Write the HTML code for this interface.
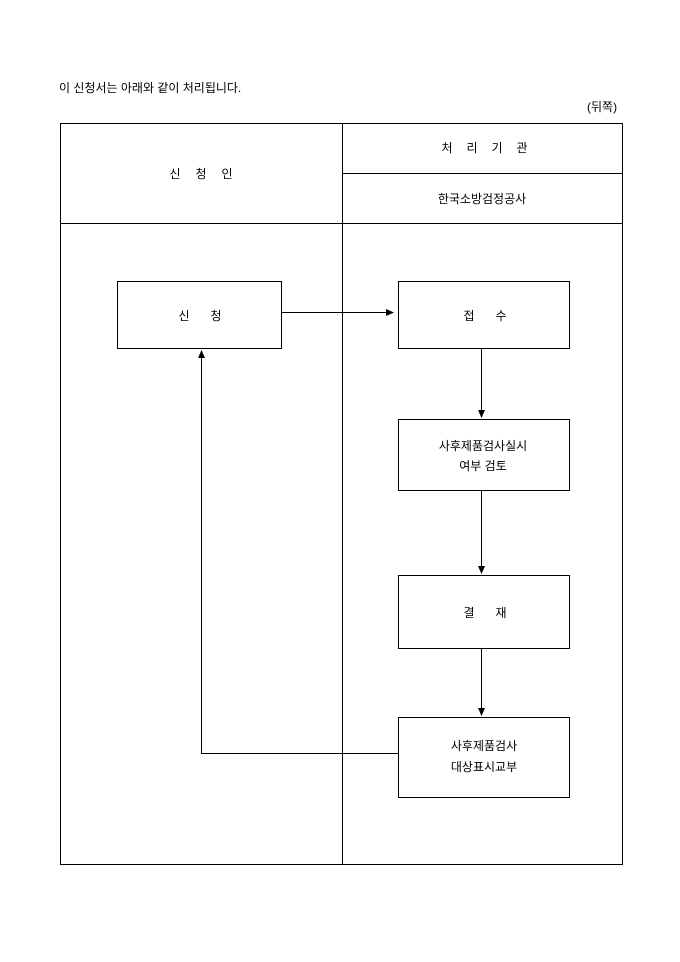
<!DOCTYPE html>
<html><head><meta charset="utf-8"><style>
html,body{margin:0;padding:0;background:#fff;}
svg{display:block;}
text{font-family:"Liberation Sans","Noto Sans CJK KR","NanumGothic",sans-serif;font-size:12px;fill:#000;}
</style></head><body>
<svg width="680" height="962" xmlns="http://www.w3.org/2000/svg">
<defs><marker id="a" markerWidth="8" markerHeight="8" refX="7" refY="4" orient="auto" markerUnits="userSpaceOnUse"><path d="M0,0.5 L8,4 L0,7.5z" fill="#000"/></marker></defs>
<text x="59" y="92">이 신청서는 아래와 같이 처리됩니다.</text>
<text x="587" y="111">(뒤쪽)</text>
<g stroke="#000" stroke-width="1" fill="none">
<rect x="60.5" y="123.5" width="562" height="741"/>
<line x1="342.5" y1="123" x2="342.5" y2="865"/>
<line x1="60" y1="223.5" x2="623" y2="223.5"/>
<line x1="342" y1="173.5" x2="623" y2="173.5"/>
<rect x="117.5" y="281.5" width="164" height="67"/>
<rect x="398.5" y="281.5" width="171" height="67"/>
<rect x="398.5" y="419.5" width="171" height="71"/>
<rect x="398.5" y="575.5" width="171" height="73"/>
<rect x="398.5" y="717.5" width="171" height="80"/>
<line x1="282" y1="312.5" x2="393" y2="312.5" marker-end="url(#a)"/>
<line x1="481.5" y1="349" x2="481.5" y2="417" marker-end="url(#a)"/>
<line x1="481.5" y1="491" x2="481.5" y2="573" marker-end="url(#a)"/>
<line x1="481.5" y1="649" x2="481.5" y2="715" marker-end="url(#a)"/>
<polyline points="398,753.5 201.5,753.5 201.5,351" marker-end="url(#a)"/>
</g>
<g text-anchor="middle">
<text x="175" y="178">신</text><text x="201" y="178">청</text><text x="227" y="178">인</text>
<text x="447" y="152">처</text><text x="472" y="152">리</text><text x="497" y="152">기</text><text x="522" y="152">관</text>
<text x="482" y="203">한국소방검정공사</text>
<text x="184" y="320">신</text><text x="216" y="320">청</text>
<text x="469" y="320">접</text><text x="501" y="320">수</text>
<text x="483" y="450">사후제품검사실시</text>
<text x="483" y="470">여부 검토</text>
<text x="469" y="617">결</text><text x="501" y="617">재</text>
<text x="484" y="750">사후제품검사</text>
<text x="484" y="771">대상표시교부</text>
</g>
</svg>
</body></html>
